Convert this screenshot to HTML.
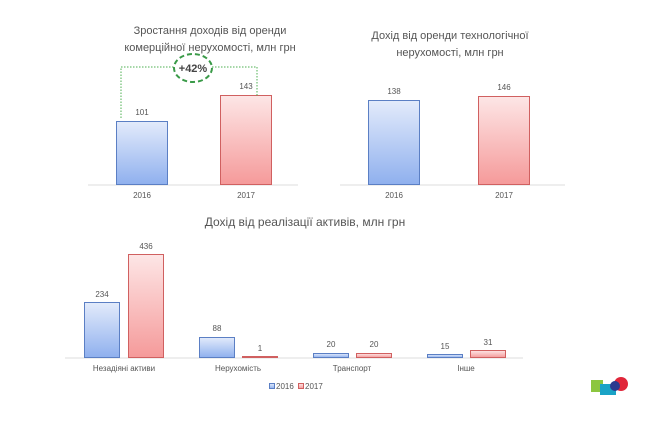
<!DOCTYPE html>
<html><head><meta charset="utf-8"><style>
body{margin:0;background:#fff;}
svg text{font-family:"Liberation Sans",sans-serif;fill:#555;}
</style></head><body>
<svg width="650" height="417" viewBox="0 0 650 417" xmlns="http://www.w3.org/2000/svg">
<defs>
<linearGradient id="b" x1="0" y1="0" x2="0" y2="1"><stop offset="0" stop-color="#e3ebfb"/><stop offset="1" stop-color="#8fb0ee"/></linearGradient>
<linearGradient id="r" x1="0" y1="0" x2="0" y2="1"><stop offset="0" stop-color="#fde6e6"/><stop offset="1" stop-color="#f59a9a"/></linearGradient>
</defs>
<!-- chart 1 -->
<text x="210" y="34" font-size="11" text-anchor="middle">Зростання доходів від оренди</text>
<text x="210" y="51" font-size="11" text-anchor="middle">комерційної нерухомості, млн грн</text>
<line x1="88" y1="185" x2="298" y2="185" stroke="#ddd"/>
<rect x="116.5" y="121.5" width="51" height="63" fill="url(#b)" stroke="#5b7fc4"/>
<rect x="220.5" y="95.5" width="51" height="89" fill="url(#r)" stroke="#d06060"/>
<text x="142" y="115" font-size="8" text-anchor="middle">101</text>
<text x="246" y="89" font-size="8" text-anchor="middle">143</text>
<text x="142" y="198" font-size="8" text-anchor="middle">2016</text>
<text x="246" y="198" font-size="8" text-anchor="middle">2017</text>
<polyline points="121,118 121,67 174,67" fill="none" stroke="#4caf50" stroke-dasharray="1.5,1.5"/>
<polyline points="212,67 257,67 257,97" fill="none" stroke="#4caf50" stroke-dasharray="1.5,1.5"/>
<ellipse cx="193" cy="68" rx="19" ry="14" fill="#fff" stroke="#3a9a48" stroke-width="2" stroke-dasharray="5,3"/>
<text x="193" y="72" font-size="11" text-anchor="middle" font-weight="bold" style="fill:#444">+42%</text>
<!-- chart 2 -->
<text x="450" y="39" font-size="11" text-anchor="middle">Дохід від оренди технологічної</text>
<text x="450" y="56" font-size="11" text-anchor="middle">нерухомості, млн грн</text>
<line x1="340" y1="185" x2="565" y2="185" stroke="#ddd"/>
<rect x="368.5" y="100.5" width="51" height="84" fill="url(#b)" stroke="#5b7fc4"/>
<rect x="478.5" y="96.5" width="51" height="88" fill="url(#r)" stroke="#d06060"/>
<text x="394" y="94" font-size="8" text-anchor="middle">138</text>
<text x="504" y="90" font-size="8" text-anchor="middle">146</text>
<text x="394" y="198" font-size="8" text-anchor="middle">2016</text>
<text x="504" y="198" font-size="8" text-anchor="middle">2017</text>
<!-- chart 3 -->
<text x="305" y="226" font-size="12" text-anchor="middle">Дохід від реалізації активів, млн грн</text>
<line x1="65" y1="358" x2="523" y2="358" stroke="#ddd"/>
<g stroke-width="1">
<rect x="84.5" y="302.5" width="35" height="55" fill="url(#b)" stroke="#5b7fc4"/>
<rect x="128.5" y="254.5" width="35" height="103" fill="url(#r)" stroke="#d06060"/>
<rect x="199.5" y="337.5" width="35" height="20" fill="url(#b)" stroke="#5b7fc4"/>
<rect x="242.5" y="356.5" width="35" height="1" fill="url(#r)" stroke="#d06060"/>
<rect x="313.5" y="353.5" width="35" height="4" fill="url(#b)" stroke="#5b7fc4"/>
<rect x="356.5" y="353.5" width="35" height="4" fill="url(#r)" stroke="#d06060"/>
<rect x="427.5" y="354.5" width="35" height="3" fill="url(#b)" stroke="#5b7fc4"/>
<rect x="470.5" y="350.5" width="35" height="7" fill="url(#r)" stroke="#d06060"/>
</g>
<g font-size="8" text-anchor="middle">
<text x="102" y="297">234</text><text x="146" y="249">436</text>
<text x="217" y="331">88</text><text x="260" y="351">1</text>
<text x="331" y="347">20</text><text x="374" y="347">20</text>
<text x="445" y="349">15</text><text x="488" y="345">31</text>
<text x="124" y="371">Незадіяні активи</text>
<text x="238" y="371">Нерухомість</text>
<text x="352" y="371">Транспорт</text>
<text x="466" y="371">Інше</text>
</g>
<rect x="269.5" y="383.5" width="5" height="5" fill="url(#b)" stroke="#5b7fc4"/>
<text x="276" y="389" font-size="8">2016</text>
<rect x="298.5" y="383.5" width="5" height="5" fill="url(#r)" stroke="#d06060"/>
<text x="305" y="389" font-size="8">2017</text>
<!-- logo -->
<rect x="591" y="380" width="12" height="12" fill="#8cc63f"/>
<rect x="600" y="384" width="16" height="11" fill="#1aa3c6"/>
<circle cx="621" cy="384" r="7" fill="#e0263a"/>
<circle cx="615" cy="386" r="5" fill="#2b3a8f"/>
</svg>
</body></html>
